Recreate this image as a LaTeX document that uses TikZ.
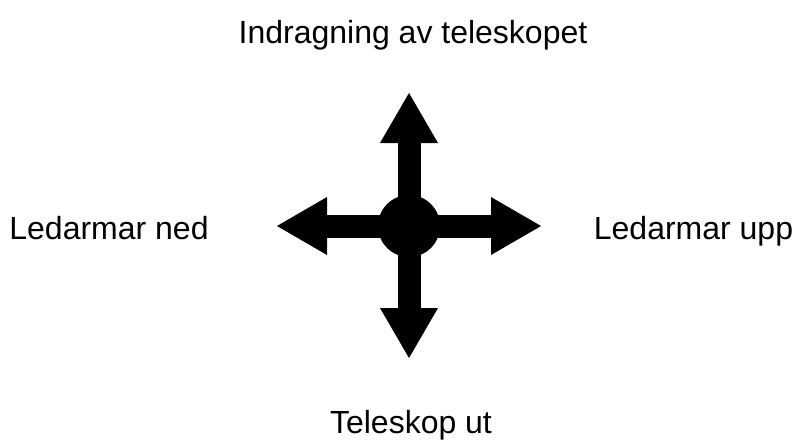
\documentclass[tikz,border=0pt]{standalone}
\usepackage{fontspec}
\setmainfont{Liberation Sans}
\usetikzlibrary{arrows.meta}
\begin{document}
\begin{tikzpicture}[x=1pt,y=-1pt,
  lbl/.style={anchor=base,inner sep=0pt,font=\fontsize{32}{38}\selectfont},
  bigarrow/.style={line width=23pt,-{Triangle[length=50pt,width=58pt,line width=0pt]}}]
\useasboundingbox (0,0) rectangle (795,439);
\node[circle,fill=black,minimum size=62pt,inner sep=0pt] (c) at (409,226) {};
\coordinate (tu) at (409,93);
\coordinate (tb) at (409,358);
\coordinate (tl) at (277,226);
\coordinate (tr) at (541,226);
\draw[bigarrow] (c.center) -- (tu);
\draw[bigarrow] (c.center) -- (tb);
\draw[bigarrow] (c.center) -- (tl);
\draw[bigarrow] (c.center) -- (tr);
\node[lbl] (top) at (413,43) {Indragning av teleskopet};
\node[lbl] (left) at (109,239) {Ledarmar ned};
\node[lbl] (right) at (693.5,239) {Ledarmar upp};
\node[lbl] (bottom) at (411,433) {Teleskop ut};
\end{tikzpicture}
\end{document}
